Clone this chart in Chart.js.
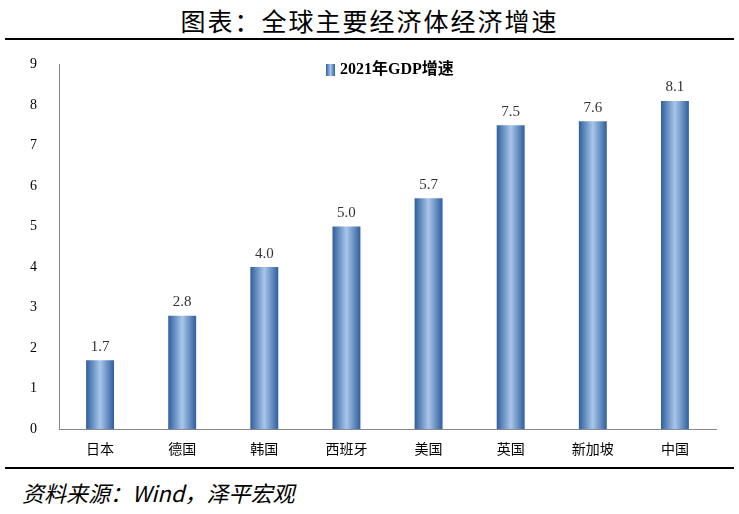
<!DOCTYPE html>
<html><head><meta charset="utf-8">
<script src="https://cdn.jsdelivr.net/npm/chart.js@4.4.1/dist/chart.umd.min.js"></script>
<style>
body{margin:0;width:739px;height:514px;background:#fff;position:relative;overflow:hidden;font-family:"Noto Sans CJK SC",serif}
#title{position:absolute;top:2px;left:0;width:739px;text-align:center;font-size:25px;letter-spacing:2px;color:#000}
#top{position:absolute;top:38px;left:5px;width:729px;height:2px;background:#000}
#bot{position:absolute;top:467px;left:5px;width:729px;height:2px;background:#000}
#src{position:absolute;top:476px;left:22px;font-size:22px;font-style:italic;color:#000}
#wrap{position:absolute;top:42px;left:8px;width:720px;height:418px}
</style></head><body>
<div id="title">图表：全球主要经济体经济增速</div>
<div id="top"></div>
<div id="wrap"><canvas id="c"></canvas></div>
<div id="bot"></div>
<div id="src">资料来源：Wind，泽平宏观</div>
<script>
const categories = ['日本','德国','韩国','西班牙','美国','英国','新加坡','中国'];
const growth = [1.7, 2.8, 4.0, 5.0, 5.7, 7.5, 7.6, 8.1];
const seriesName = '2021年GDP增速';

function barGradient(ctx, x0, x1) {
    const g = ctx.createLinearGradient(x0, 0, x1, 0);
    g.addColorStop(0, '#2f5f9e');
    g.addColorStop(0.5, '#a9c6ea');
    g.addColorStop(1, '#2f5f9e');
    return g;
}

const paintBars = {
    id: 'paintBars',
    beforeDatasetsDraw(chart) {
        const ctx = chart.ctx;
        chart.getDatasetMeta(0).data.forEach(bar => {
            bar.options = Object.assign({}, bar.options, {
                backgroundColor: barGradient(ctx, bar.x - bar.width / 2, bar.x + bar.width / 2)
            });
        });
    },
    afterDatasetsDraw(chart) {
        const ctx = chart.ctx;
        ctx.save();
        ctx.fillStyle = '#333';
        ctx.font = '15px "Liberation Serif", serif';
        ctx.textAlign = 'center';
        ctx.textBaseline = 'bottom';
        chart.getDatasetMeta(0).data.forEach((bar, i) => {
            ctx.fillText(growth[i].toFixed(1), bar.x, bar.y - 6);
        });
        // legend
        const lx = 318, ly = 22;
        ctx.fillStyle = barGradient(ctx, lx, lx + 9);
        ctx.fillRect(lx, ly, 9, 12);
        ctx.fillStyle = '#000';
        ctx.font = 'bold 16px "Liberation Serif", "Noto Sans CJK SC", serif';
        ctx.textAlign = 'left';
        ctx.textBaseline = 'middle';
        ctx.fillText(seriesName, lx + 14, ly + 6);
        ctx.restore();
    }
};

new Chart(document.getElementById('c'), {
    type: 'bar',
    data: { labels: categories, datasets: [{ label: seriesName, data: growth, backgroundColor: '#4f81bd', barPercentage: 0.34, categoryPercentage: 1 }] },
    options: {
        responsive: true, maintainAspectRatio: false, animation: false,
        layout: { padding: { top: 18, right: 12, left: 8, bottom: 0 } },
        plugins: { legend: { display: false }, tooltip: { enabled: false } },
        scales: {
            x: { grid: { display: false }, border: { color: '#888' },
                 ticks: { color: '#000', font: { size: 14, family: '"Noto Sans CJK SC", serif' } } },
            y: { min: 0, max: 9, grid: { display: false }, border: { color: '#888' },
                 ticks: { stepSize: 1, color: '#000', padding: 14, font: { size: 14, family: '"Liberation Serif", serif' } } }
        }
    },
    plugins: [paintBars]
});
</script>
</body></html>
